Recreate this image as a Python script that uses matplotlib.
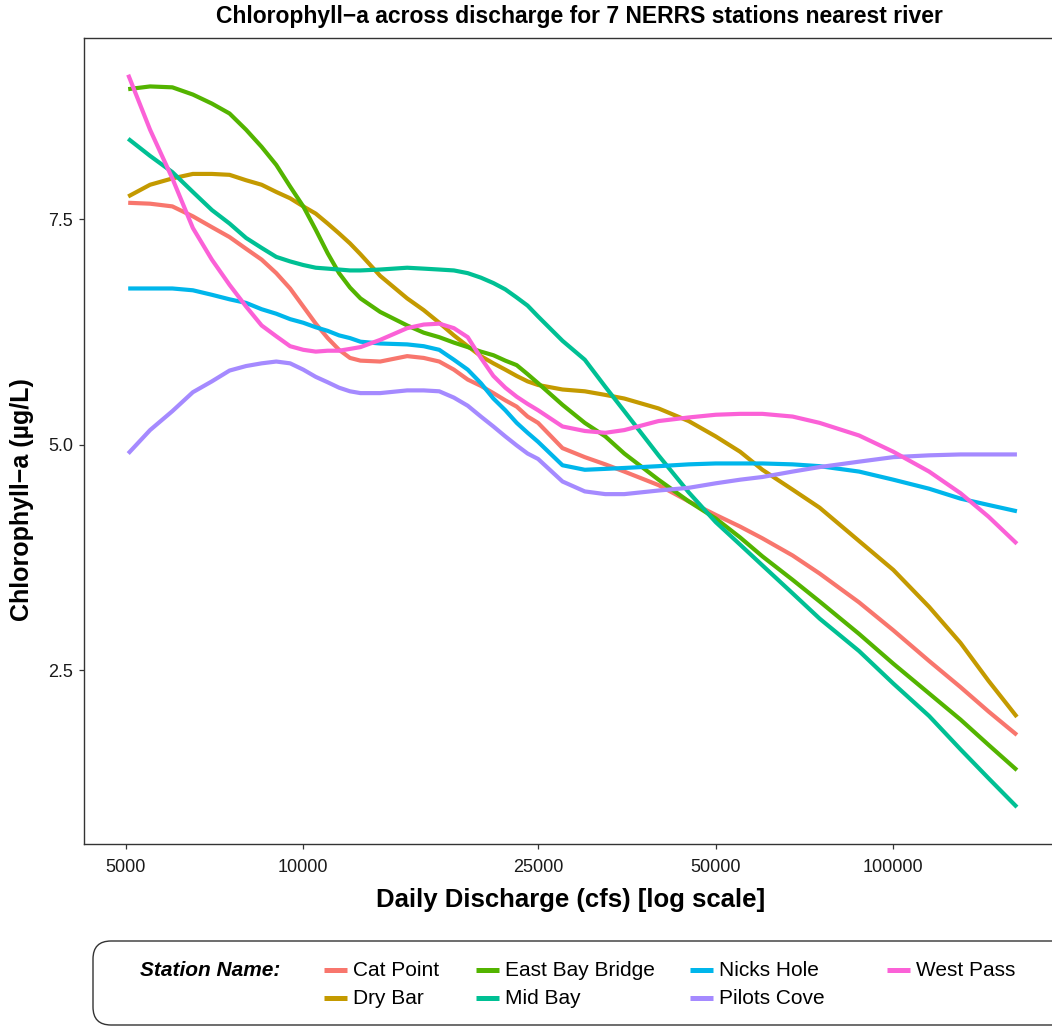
import matplotlib
matplotlib.use("Agg")
import matplotlib.pyplot as plt
from matplotlib.patches import FancyBboxPatch
from matplotlib.lines import Line2D
from matplotlib.ticker import NullLocator
from matplotlib.transforms import IdentityTransform

plt.rcParams['font.family'] = ['Liberation Sans', 'DejaVu Sans']

# ---- data ----
discharge = [5050, 5500, 6000, 6500, 7000, 7500, 8000, 8500, 9000, 9500,
             10000, 10500, 11000, 11500, 12000, 12500, 13500, 15000, 16000, 17000,
             18000, 19000, 20000, 21000, 22000, 23000, 24000, 25000, 27500, 30000,
             32500, 35000, 40000, 45000, 50000, 55000, 60000, 67500, 75000, 87500,
             100000, 115000, 130000, 145000, 162000]

stations = ["Cat Point", "Dry Bar", "East Bay Bridge", "Mid Bay",
            "Nicks Hole", "Pilots Cove", "West Pass"]
colors = ["#F8766D", "#C49A00", "#53B400", "#00C094",
          "#00B6EB", "#A58AFF", "#FB61D7"]

cat_point = [7.68, 7.67, 7.64, 7.53, 7.41, 7.30, 7.17, 7.05, 6.90, 6.73,
             6.53, 6.34, 6.18, 6.05, 5.96, 5.93, 5.92, 5.98, 5.96, 5.92,
             5.83, 5.72, 5.65, 5.57, 5.49, 5.42, 5.31, 5.24, 4.96, 4.86,
             4.78, 4.70, 4.55, 4.37, 4.22, 4.09, 3.96, 3.77, 3.57, 3.25,
             2.94, 2.60, 2.31, 2.04, 1.78]
dry_bar = [7.75, 7.88, 7.95, 8.00, 8.00, 7.99, 7.93, 7.88, 7.80, 7.73,
           7.64, 7.56, 7.45, 7.34, 7.23, 7.11, 6.87, 6.62, 6.49, 6.35,
           6.21, 6.09, 5.98, 5.90, 5.83, 5.76, 5.70, 5.66, 5.61, 5.59,
           5.55, 5.51, 5.40, 5.26, 5.09, 4.92, 4.72, 4.50, 4.30, 3.93,
           3.61, 3.20, 2.80, 2.38, 1.98]
east_bay_bridge = [8.94, 8.97, 8.96, 8.88, 8.78, 8.67, 8.49, 8.30, 8.10, 7.86,
                   7.64, 7.38, 7.12, 6.90, 6.74, 6.62, 6.47, 6.32, 6.24, 6.19,
                   6.13, 6.08, 6.03, 5.99, 5.93, 5.88, 5.78, 5.68, 5.44, 5.24,
                   5.09, 4.90, 4.61, 4.37, 4.18, 3.97, 3.76, 3.50, 3.26, 2.90,
                   2.57, 2.24, 1.95, 1.67, 1.39]
mid_bay = [8.39, 8.20, 8.02, 7.80, 7.60, 7.45, 7.29, 7.18, 7.08, 7.03,
           6.99, 6.96, 6.95, 6.94, 6.93, 6.93, 6.94, 6.96, 6.95, 6.94,
           6.93, 6.90, 6.85, 6.79, 6.72, 6.63, 6.54, 6.42, 6.15, 5.94,
           5.64, 5.37, 4.88, 4.47, 4.14, 3.89, 3.66, 3.35, 3.07, 2.71,
           2.35, 1.99, 1.62, 1.30, 0.98]
nicks_hole = [6.73, 6.73, 6.73, 6.71, 6.66, 6.61, 6.57, 6.50, 6.45, 6.39,
              6.35, 6.30, 6.26, 6.21, 6.18, 6.14, 6.12, 6.11, 6.09, 6.05,
              5.94, 5.83, 5.68, 5.51, 5.38, 5.24, 5.13, 5.03, 4.77, 4.72,
              4.73, 4.74, 4.76, 4.78, 4.79, 4.79, 4.79, 4.78, 4.76, 4.70,
              4.61, 4.51, 4.40, 4.33, 4.26]
pilots_cove = [4.90, 5.16, 5.37, 5.58, 5.70, 5.82, 5.87, 5.90, 5.92, 5.90,
               5.83, 5.75, 5.69, 5.63, 5.59, 5.57, 5.57, 5.60, 5.60, 5.59,
               5.52, 5.43, 5.31, 5.20, 5.09, 4.99, 4.90, 4.84, 4.59, 4.48,
               4.45, 4.45, 4.49, 4.52, 4.57, 4.61, 4.64, 4.70, 4.75, 4.81,
               4.86, 4.88, 4.89, 4.89, 4.89]
west_pass = [9.10, 8.49, 7.95, 7.40, 7.05, 6.77, 6.53, 6.32, 6.20, 6.09,
             6.05, 6.03, 6.04, 6.04, 6.06, 6.08, 6.16, 6.29, 6.33, 6.34,
             6.29, 6.19, 5.96, 5.76, 5.63, 5.53, 5.45, 5.38, 5.20, 5.15,
             5.13, 5.16, 5.26, 5.30, 5.33, 5.34, 5.34, 5.31, 5.24, 5.10,
             4.92, 4.70, 4.46, 4.20, 3.90]

series = [cat_point, dry_bar, east_bay_bridge, mid_bay,
          nicks_hole, pilots_cove, west_pass]

xticks = [5000, 10000, 25000, 50000, 100000]
xticklabels = ["5000", "10000", "25000", "50000", "100000"]
yticks = [2.5, 5.0, 7.5]
yticklabels = ["2.5", "5.0", "7.5"]

title = "Chlorophyll\u2212a across discharge for 7 NERRS stations nearest river"
xlabel = "Daily Discharge (cfs) [log scale]"
ylabel = "Chlorophyll\u2212a (\u00b5g/L)"
legend_title = "Station Name:"

# ---- figure ----
W, H = 1052, 1026
fig = plt.figure(figsize=(W / 100, H / 100), dpi=100)
fig.patch.set_facecolor("white")

def fxp(px):
    return px / W

def fyp(py):
    return 1 - py / H

left, right, top, bottom = 84.3, 1061.4, 38.0, 844.0
ax = fig.add_axes([fxp(left), fyp(bottom), (right - left) / W, (bottom - top) / H])
ax.set_xscale("log")

for name, vals, col in zip(stations, series, colors):
    ax.plot(discharge, vals, color=col, lw=3.0, solid_capstyle="butt",
            solid_joinstyle="round", label=name)

ax.set_xlim(4255, 192700)
ax.set_ylim(0.571, 9.507)
ax.set_xticks(xticks)
ax.set_xticklabels(xticklabels)
ax.xaxis.set_minor_locator(NullLocator())
ax.set_yticks(yticks)
ax.set_yticklabels(yticklabels)

for sp in ax.spines.values():
    sp.set_color("#333333")
    sp.set_linewidth(1.0)

ax.tick_params(axis="both", length=3.5, width=0.9, color="#333333",
               labelsize=13, labelcolor="#1a1a1a")
ax.tick_params(axis="x", pad=7)
ax.tick_params(axis="y", pad=4.5)

fig.text(fxp(579), fyp(17), title, ha="center", va="center",
         fontsize=16.5, fontweight="bold", color="black")
fig.text(fxp(571), fyp(900), xlabel, ha="center", va="center",
         fontsize=18.5, fontweight="bold", color="black")
fig.text(fxp(22), fyp(500), ylabel, ha="center", va="center",
         rotation=90, fontsize=18, fontweight="bold", color="black")

# ---- legend ----
box = FancyBboxPatch((93, H - 1025), 1100, 84,
                     boxstyle="round,pad=0,rounding_size=18",
                     transform=IdentityTransform(),
                     facecolor="white", edgecolor="#333333", lw=1.0)
fig.add_artist(box)

fig.text(fxp(140), fyp(970), legend_title, ha="left", va="center",
         fontsize=15, fontweight="bold", fontstyle="italic", color="black")

key_x = [324, 324, 476, 476, 690, 690, 887]
key_y = [970, 998, 970, 998, 970, 998, 970]
for name, col, kx, ky in zip(stations, colors, key_x, key_y):
    fig.add_artist(Line2D([fxp(kx), fxp(kx + 23)], [fyp(ky), fyp(ky)],
                          transform=fig.transFigure, color=col, lw=3.6,
                          solid_capstyle="butt"))
    fig.text(fxp(kx + 29), fyp(ky), name, ha="left", va="center",
             fontsize=15, color="black")

fig.savefig("out.png", dpi=100)
